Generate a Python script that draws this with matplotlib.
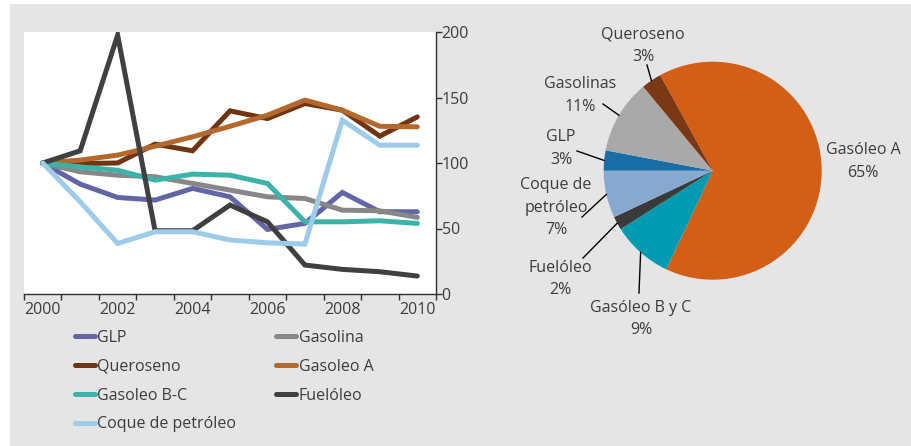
import numpy as np
import matplotlib
matplotlib.use("Agg")
import matplotlib.pyplot as plt
from matplotlib.patches import Rectangle
from matplotlib.lines import Line2D

plt.rcParams['font.family'] = ['Open Sans', 'DejaVu Sans']
plt.rcParams['font.size'] = 11.5
txt = '#3c3c3c'

# Datos de la serie (indice 2000 = 100)
years = list(range(2000, 2011))
glp = [100, 83.9, 73.7, 71.7, 80.6, 74.2, 49.3, 53.9, 77.5, 62.8, 62.8]
gasolina = [100, 93.3, 90.7, 89.5, 84.4, 79.3, 74.2, 72.9, 64.0, 63.5, 58.5]
queroseno = [100, 99.6, 100, 114.4, 109.3, 139.8, 133.9, 145.4, 140.3, 120.5, 135.2]
gasoleo_a = [100, 102.2, 106, 112.8, 120, 128, 136.5, 148, 140.3, 128, 127.6]
gasoleo_bc = [100, 97, 94.5, 86.9, 91.5, 90.7, 84.4, 55.1, 55.1, 55.9, 53.9]
fueloleo = [100, 109.3, 197.5, 48.3, 48.3, 67.9, 55.1, 22.1, 18.8, 17.0, 13.7]
coque = [100, 70.4, 38.6, 47.5, 47.5, 41.2, 39.1, 38.1, 132.7, 113.6, 113.6]

series_names = ['GLP', 'Gasolina', 'Queroseno', 'Gasoleo A', 'Gasoleo B-C', 'Fuelóleo', 'Coque de petróleo']
series_colors = ['#6265a6', '#878787', '#6f3512', '#b4682c', '#3bb3a9', '#404040', '#9dcbea']
series = [glp, gasolina, queroseno, gasoleo_a, gasoleo_bc, fueloleo, coque]

# Datos de la tarta
pie_labels = ['Gasóleo A', 'Gasóleo B y C', 'Fuelóleo', 'Coque de\npetróleo', 'GLP', 'Gasolinas', 'Queroseno']
pie_pct = [65, 9, 2, 7, 3, 11, 3]
pie_colors = ['#d35f17', '#009bb0', '#3a3a3a', '#87a9cf', '#1a6ea8', '#a9a9a9', '#7a3814']

W, H = 912, 446
fig = plt.figure(figsize=(W / 100, H / 100), dpi=100, facecolor='white')
fig.patches.append(Rectangle((10 / W, 0), 902 / W, 442 / H, transform=fig.transFigure,
                             facecolor='#e5e5e5', edgecolor='none', zorder=-10))

# --- grafico de lineas ---
ax = fig.add_axes([24 / W, (H - 294) / H, (436 - 24) / W, 262 / H])
ax.set_facecolor('white')
x = np.arange(len(years))
for vals, name, col in zip(series, series_names, series_colors):
    ax.plot(x, vals, color=col, lw=3.6, solid_capstyle='round', solid_joinstyle='miter', label=name)

ax.set_xlim(-0.5, len(years) - 0.5)
ax.set_ylim(0, 200)
ax.set_xticks(x[::2])
ax.set_xticklabels([str(y) for y in years[::2]], color=txt)
ax.set_xticks(np.arange(-0.5, len(years)), minor=True)
ax.tick_params(axis='x', which='major', length=0, pad=6)
ax.tick_params(axis='x', which='minor', length=4, width=1, color='#303030')
ax.yaxis.tick_right()
ax.set_yticks([0, 50, 100, 150, 200])
ax.tick_params(axis='y', length=4, width=1, color='#303030', pad=0, labelcolor=txt)
for s in ['left', 'top']:
    ax.spines[s].set_visible(False)
for s in ['bottom', 'right']:
    ax.spines[s].set_color('#303030')
    ax.spines[s].set_linewidth(1)

# leyenda: columna 1 = GLP, Queroseno, Gasoleo B-C, Coque; columna 2 = resto
order = [0, 2, 4, 6, 1, 3, 5]
leg_handles = [Line2D([0], [0], color=series_colors[i], lw=3.6, solid_capstyle='round') for i in order]
fig.legend(leg_handles, [series_names[i] for i in order], ncol=2, loc='upper left',
           bbox_to_anchor=(75 / W, (H - 330) / H), frameon=False, borderpad=0, borderaxespad=0,
           handlelength=1.25, handletextpad=0.15, columnspacing=2.5, labelspacing=0.8,
           labelcolor=txt)

# --- grafico de tarta ---
cx, cy, r = 712.7, 170.7, 109
ax2 = fig.add_axes([(cx - r) / W, (H - cy - r) / H, 2 * r / W, 2 * r / H])
wedges, _ = ax2.pie(pie_pct, colors=pie_colors, startangle=118.8, counterclock=False,
                    radius=1, wedgeprops=dict(linewidth=0))
ax2.set_xlim(-1, 1)
ax2.set_ylim(-1, 1)
ax2.axis('off')

def px(p, q):
    return ((p - cx) / r, (cy - q) / r)

# posiciones de etiquetas y finales de guias (pixeles)
label_pos = [(863, 161.5), (641, 319), (560, 279), (556, 207.5), (561, 148.5), (580, 95.5), (643, 45.5)]
leader_end = [None, (639, 293), (583, 258), (582, 217), (577, 151), (603, 104), (647, 65)]

for w, lab, pct, lp, le in zip(wedges, pie_labels, pie_pct, label_pos, leader_end):
    tx, ty = px(*lp)
    ax2.text(tx, ty, f'{lab}\n{pct}%', ha='center', va='center', color=txt,
             linespacing=1.55)
    if le is not None:
        ang = np.deg2rad((w.theta1 + w.theta2) / 2)
        ex, ey = px(*le)
        ax2.plot([np.cos(ang), ex], [np.sin(ang), ey], color='black', lw=1, clip_on=False)

fig.savefig('out.png', dpi=100, facecolor='white')
